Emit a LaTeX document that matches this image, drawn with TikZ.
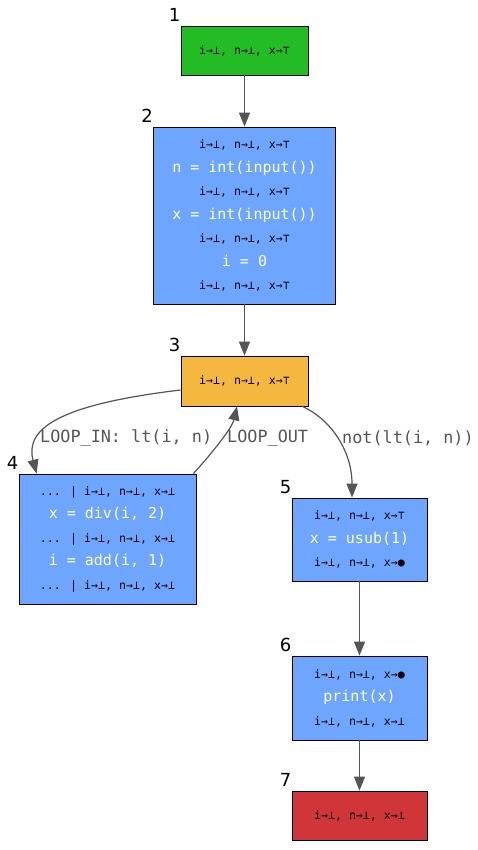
\documentclass[tikz,border=0pt]{standalone}
\usepackage{fontspec}
\setmainfont{DejaVu Sans}
\newfontfamily\monofont{DejaVu Sans Mono}
\usetikzlibrary{arrows.meta,positioning}
\definecolor{entrygreen}{HTML}{24BC24}
\definecolor{blockblue}{HTML}{6EA6FF}
\definecolor{condorange}{HTML}{F4B740}
\definecolor{exitred}{HTML}{D0353A}
\definecolor{edgegray}{HTML}{555555}
\newcommand{\inittop}{i→⊥, n→⊥, x→⊤}
\newcommand{\allbot}{i→⊥, n→⊥, x→⊥}
\newcommand{\xset}{i→⊥, n→⊥, x→●}
\newcommand{\code}[1]{{\color{white}\fontsize{15}{23.5}\selectfont #1}}

\begin{document}
\begin{tikzpicture}[x=1pt, y=-1pt,
  block/.style={draw=black, line width=0.8pt, align=center, inner sep=0pt,
    font=\monofont\fontsize{11.6}{23.5}\selectfont},
  num/.style={font=\fontsize{18}{18}\selectfont, inner sep=0pt},
  edge/.style={draw=edgegray, line width=1.2pt, -{Triangle[length=14pt,width=11pt]}},
  elabel/.style={font=\monofont\fontsize{16.8}{18}\selectfont, text=edgegray, inner sep=0pt}]
\useasboundingbox (0,0) rectangle (478,850);

% Blocks
\node[block, fill=entrygreen, minimum width=127pt, minimum height=49pt] (b1) at (244.5,50.5) {\inittop};
\node[block, fill=blockblue, minimum width=182pt, minimum height=177pt] (b2) at (244.5,215.5)
  {\inittop\\\code{n = int(input())}\\\inittop\\\code{x = int(input())}\\\inittop\\\code{i = 0}\\\inittop};
\node[block, fill=condorange, minimum width=127pt, minimum height=50pt] (b3) at (244.5,381) {\inittop};
\node[block, fill=blockblue, minimum width=177pt, minimum height=130pt] (b4) at (107.5,539)
  {... | \allbot\\\code{x = div(i, 2)}\\... | \allbot\\\code{i = add(i, 1)}\\... | \allbot};
\node[block, fill=blockblue, minimum width=135pt, minimum height=83pt] (b5) at (359.5,539.5)
  {\inittop\\\code{x = usub(1)}\\\xset};
\node[block, fill=blockblue, minimum width=135pt, minimum height=84pt] (b6) at (359.5,698)
  {\xset\\\code{print(x)}\\\allbot};
\node[block, fill=exitred, minimum width=135pt, minimum height=49pt] (b7) at (359.5,815.5) {\allbot};

% Block numbers
\node[num, above left=4pt and 0pt of b1.north west] (n1) {1};
\node[num, above left=4pt and 0pt of b2.north west] (n2) {2};
\node[num, above left=4pt and 0pt of b3.north west] (n3) {3};
\node[num, above left=4pt and 0pt of b4.north west] (n4) {4};
\node[num, above left=4pt and 0pt of b5.north west] (n5) {5};
\node[num, above left=4pt and 0pt of b6.north west] (n6) {6};
\node[num, above left=4pt and 0pt of b7.north west] (n7) {7};

% Edges
\draw[edge] (b1) -- (b2);
\draw[edge] (b2) -- (b3);
\draw[edge] ([yshift=-9pt]b3.west) .. controls (55,405) and (25,430) .. ([xshift=18pt]b4.north west);
\draw[edge] ([xshift=-3pt]b4.north east) .. controls (213,452) and (232,428) .. ([xshift=-7.5pt]b3.south);
\draw[edge] ([xshift=-6pt]b3.south east) .. controls (332,420) and (352,452) .. ([xshift=-7.5pt]b5.north);
\draw[edge] (b5) -- (b6);
\draw[edge] (b6) -- (b7);

% Edge labels
\node[elabel, anchor=west] (lin) at (40,438) {LOOP\_IN: lt(i, n)};
\node[elabel, anchor=west] (lout) at (227,438) {LOOP\_OUT};
\node[elabel, anchor=west] (lnot) at (342,438) {not(lt(i, n))};

\end{tikzpicture}
\end{document}
